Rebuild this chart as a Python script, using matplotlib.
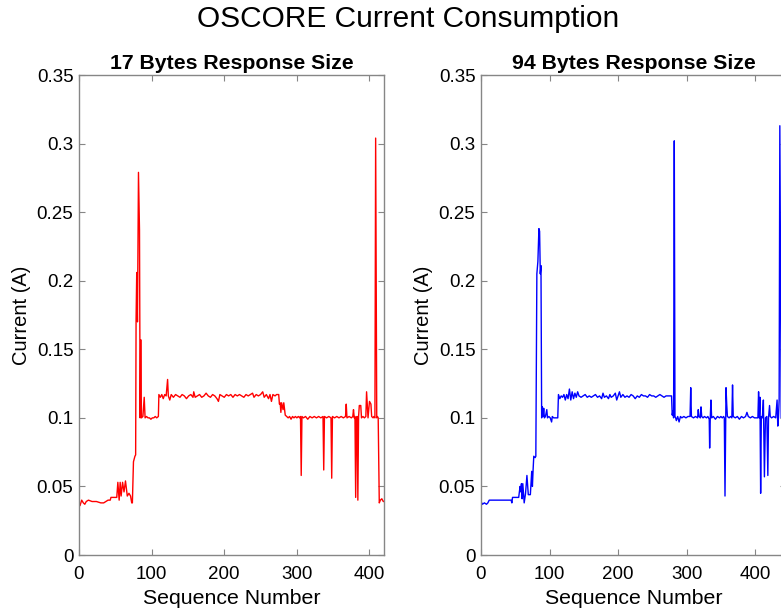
import matplotlib
matplotlib.use("Agg")
import matplotlib.pyplot as plt

plt.rcParams['font.family'] = ['Liberation Sans', 'DejaVu Sans']

# ---------------- data (digitised vertices) ----------------
seq_17 = [0, 1.4, 3.7, 6, 8, 10, 13, 18, 24, 30, 34, 37, 40, 43, 44, 48, 52,
          53.5, 55.3, 56.7, 58, 60, 62, 64, 66.5, 68.8, 71, 72.6, 73.5, 74.4, 75, 77, 78,
          78.6, 79.5, 80.5, 81.9, 83.3, 84.2, 85, 86, 88, 89.8, 91, 93, 95, 97, 99, 101,
          103, 105, 107, 109.3,
          110, 112, 114, 116, 118, 120, 122, 123, 125, 127, 130, 133, 136, 139, 142, 145,
          148, 151, 154, 157, 158, 160, 163, 166, 169, 172, 175, 178, 181, 184, 187, 190,
          192, 194, 197, 200, 203, 206, 209, 212, 215, 218, 221, 224, 227, 230, 233, 236,
          239, 241, 244, 247, 250, 253, 255, 258, 261, 263, 265, 267, 270, 272, 275,
          276, 277, 278, 279, 281, 282, 284, 286, 288,
          290, 292, 294, 296, 298, 300, 302, 304, 305, 306, 307, 309, 312, 315, 318, 321,
          324, 327, 330, 333, 336, 337, 338, 341, 344, 347, 348, 349, 352, 355, 358, 361,
          364, 367, 368, 369, 372, 375, 377, 378, 379, 380, 381, 382, 383, 384, 385, 386,
          388, 389, 391, 393, 395, 396, 398, 400, 402, 403, 405, 406, 407.5, 408.5, 410,
          411, 412, 413.5, 415, 417, 419, 420]
cur_17 = [0.039, 0.036, 0.040, 0.038, 0.037, 0.039, 0.040, 0.039, 0.039, 0.038, 0.038, 0.039, 0.040, 0.040, 0.042, 0.042, 0.042,
          0.053, 0.040, 0.053, 0.043, 0.053, 0.046, 0.054, 0.043, 0.045, 0.043, 0.038, 0.038, 0.057, 0.068, 0.072, 0.073,
          0.172, 0.206, 0.170, 0.279, 0.237, 0.100, 0.157, 0.100, 0.101, 0.115, 0.100, 0.101, 0.100, 0.100, 0.099, 0.100,
          0.100, 0.101, 0.100, 0.101,
          0.117, 0.115, 0.117, 0.114, 0.117, 0.116, 0.128, 0.116, 0.113, 0.117, 0.115, 0.117, 0.116, 0.115, 0.117, 0.116,
          0.114, 0.116, 0.117, 0.115, 0.119, 0.115, 0.116, 0.117, 0.115, 0.116, 0.118, 0.116, 0.115, 0.117, 0.116, 0.114,
          0.112, 0.117, 0.116, 0.115, 0.117, 0.116, 0.117, 0.115, 0.117, 0.116, 0.117, 0.116, 0.115, 0.117, 0.116, 0.117,
          0.118, 0.115, 0.117, 0.116, 0.117, 0.119, 0.115, 0.117, 0.114, 0.117, 0.112, 0.117, 0.116, 0.117, 0.117,
          0.110, 0.111, 0.104, 0.111, 0.106, 0.111, 0.102, 0.101, 0.100,
          0.101, 0.099, 0.101, 0.100, 0.101, 0.100, 0.101, 0.100, 0.101, 0.058, 0.101, 0.100, 0.101, 0.099, 0.101, 0.100,
          0.101, 0.100, 0.101, 0.100, 0.101, 0.062, 0.101, 0.100, 0.101, 0.100, 0.056, 0.101, 0.100, 0.101, 0.100, 0.101,
          0.100, 0.101, 0.110, 0.100, 0.101, 0.100, 0.101, 0.106, 0.100, 0.101, 0.042, 0.100, 0.101, 0.040, 0.101, 0.109,
          0.109, 0.100, 0.101, 0.100, 0.101, 0.119, 0.100, 0.112, 0.110, 0.101, 0.100, 0.101, 0.100, 0.304, 0.100,
          0.101, 0.100, 0.038, 0.040, 0.041, 0.039, 0.039]

seq_94 = [0, 2, 5, 8, 10, 12, 20, 30, 40, 44, 45, 46, 50, 55, 57, 58, 59, 60, 61, 63, 65, 67, 69, 72, 74, 75, 76,
          77, 79, 80, 81.5, 83, 84.5, 85.5, 86.5, 87.5, 88.5, 89.5, 90.5, 91.5, 92.5, 94, 96, 97, 99, 101,
          103, 104, 106, 109, 112, 113,
          115, 117, 119, 121, 123, 125, 127, 129, 131, 133, 135, 137, 139, 141, 143, 146, 149, 152, 155, 158,
          161, 164, 167, 170, 173, 176, 178, 180, 183, 186, 188, 190, 193, 196, 198, 200, 202, 204, 207, 210,
          213, 216, 219, 222, 225, 228, 231, 234, 237, 240, 243, 246, 249, 252, 255, 258, 261, 264, 267, 270,
          273, 276, 278, 279, 280, 281, 282, 283, 284, 285, 287, 289, 291, 293, 296, 299, 302, 305, 306, 307,
          310, 313, 316, 317, 318, 320, 321, 322, 324, 326, 329, 331, 333, 333.6, 334.5, 335.5, 336.5, 339,
          342, 345, 348, 350, 352, 354, 355, 356, 357.5, 358.5, 359.5, 362, 364, 366, 367, 368, 371, 374,
          377, 380, 383, 386, 388, 390, 393, 396, 399, 402, 404, 405, 406, 407, 408, 409, 410.5, 412, 413.5,
          415, 417, 418.5, 419.5, 421, 422, 424, 427, 430, 432, 433, 434, 435, 436, 438, 441, 445]
cur_94 = [0.039, 0.037, 0.038, 0.037, 0.038, 0.040, 0.040, 0.040, 0.040, 0.040, 0.038, 0.042, 0.042, 0.042, 0.050, 0.046, 0.052, 0.041, 0.052, 0.038, 0.045, 0.058, 0.044, 0.044, 0.061, 0.050, 0.062,
          0.072, 0.071, 0.072, 0.205, 0.214, 0.238, 0.236, 0.205, 0.211, 0.100, 0.108, 0.101, 0.107, 0.100, 0.101, 0.106, 0.100, 0.101, 0.100,
          0.097, 0.101, 0.100, 0.100, 0.100, 0.117,
          0.114, 0.116, 0.115, 0.117, 0.113, 0.117, 0.114, 0.121, 0.113, 0.119, 0.114, 0.118, 0.115, 0.119, 0.116, 0.115, 0.116, 0.117, 0.115, 0.116,
          0.115, 0.116, 0.117, 0.115, 0.116, 0.114, 0.118, 0.115, 0.116, 0.114, 0.117, 0.115, 0.116, 0.118, 0.113, 0.116, 0.119, 0.115, 0.117, 0.115,
          0.116, 0.115, 0.117, 0.116, 0.114, 0.116, 0.115, 0.117, 0.116, 0.116, 0.115, 0.117, 0.116, 0.116, 0.115, 0.116, 0.117, 0.116, 0.115, 0.116,
          0.116, 0.116, 0.116, 0.102, 0.105, 0.100, 0.302, 0.101, 0.100, 0.098, 0.101, 0.097, 0.101, 0.100, 0.101, 0.100, 0.101, 0.101, 0.122, 0.101,
          0.100, 0.101, 0.100, 0.106, 0.101, 0.100, 0.108, 0.101, 0.100, 0.101, 0.100, 0.101, 0.099, 0.078, 0.100, 0.113, 0.100, 0.101,
          0.099, 0.101, 0.100, 0.101, 0.100, 0.101, 0.100, 0.043, 0.122, 0.110, 0.101, 0.100, 0.101, 0.100, 0.124, 0.101, 0.100, 0.101,
          0.099, 0.101, 0.100, 0.101, 0.104, 0.101, 0.100, 0.101, 0.100, 0.100, 0.100, 0.119, 0.100, 0.115, 0.045, 0.101, 0.100, 0.113, 0.057,
          0.100, 0.101, 0.058, 0.100, 0.109, 0.101, 0.100, 0.101, 0.100, 0.113, 0.094, 0.100, 0.113, 0.313, 0.100, 0.101, 0.100]

subtitles = ["17 Bytes Response Size", "94 Bytes Response Size"]
x_limits = [420, 445]
x_ticks = [0, 100, 200, 300, 400]
y_ticks = [0, 0.05, 0.1, 0.15, 0.2, 0.25, 0.3, 0.35]
y_tick_labels = ["0", "0.05", "0.1", "0.15", "0.2", "0.25", "0.3", "0.35"]
line_colors = ["#ff0000", "#0000ff"]

# ---------------- figure ----------------
W, H = 781, 613
fig = plt.figure(figsize=(W / 100, H / 100), dpi=100)

ax_left_px = [79, 481]
ax_w_px = 305
ax_top_px, ax_bot_px = 75, 555

series = [(seq_17, cur_17), (seq_94, cur_94)]
spine_col = "#868686"
for i in range(2):
    ax = fig.add_axes([ax_left_px[i] / W, 1 - ax_bot_px / H,
                       ax_w_px / W, (ax_bot_px - ax_top_px) / H])
    xs, ys = series[i]
    ax.plot(xs, ys, color=line_colors[i], lw=1.0)
    ax.set_xlim(0, x_limits[i])
    ax.set_ylim(0, 0.35)
    ax.set_xticks(x_ticks)
    ax.set_yticks(y_ticks)
    ax.set_yticklabels(y_tick_labels)
    ax.tick_params(direction="in", length=4, width=0.8, colors=spine_col,
                   labelcolor="black", labelsize=13.5, top=True, right=True)
    ax.tick_params(axis="x", pad=8)
    ax.tick_params(axis="y", pad=4)
    for s in ax.spines.values():
        s.set_color(spine_col)
        s.set_linewidth(1.0)
    ax.set_title(subtitles[i], fontsize=15.3, fontweight="bold", pad=4)
    ax.set_xlabel("Sequence Number", fontsize=15.3, labelpad=4)
    ax.set_ylabel("Current (A)", fontsize=14.5, labelpad=4)

fig.text(408 / W, 1 - 19 / H, "OSCORE Current Consumption", fontsize=21.5,
         ha="center", va="center")

fig.savefig("out.png", dpi=100)
